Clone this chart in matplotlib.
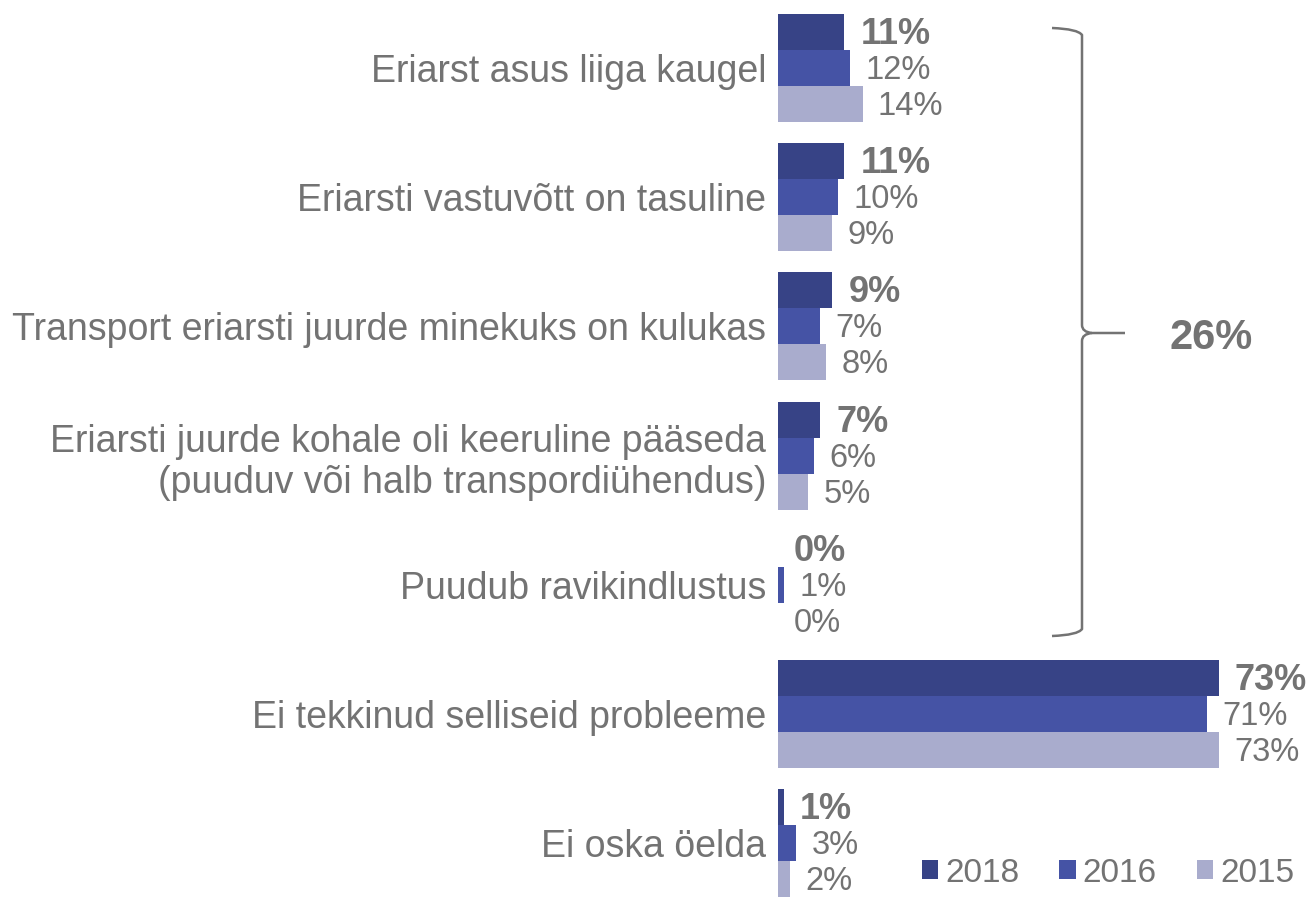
import matplotlib
matplotlib.use("Agg")
import matplotlib.pyplot as plt
from matplotlib.path import Path
from matplotlib.patches import PathPatch
import numpy as np

plt.rcParams['font.family'] = ['Liberation Sans', 'DejaVu Sans']

categories = [
    "Eriarst asus liiga kaugel",
    "Eriarsti vastuvõtt on tasuline",
    "Transport eriarsti juurde minekuks on kulukas",
    "Eriarsti juurde kohale oli keeruline pääseda\n(puuduv või halb transpordiühendus)",
    "Puudub ravikindlustus",
    "Ei tekkinud selliseid probleeme",
    "Ei oska öelda",
]
years = ["2018", "2016", "2015"]
v2018 = [11, 11, 9, 7, 0, 73, 1]
v2016 = [12, 10, 7, 6, 1, 71, 3]
v2015 = [14, 9, 8, 5, 0, 73, 2]
bracket_total = "26%"

colors = ["#374386", "#4553A5", "#A9ACCD"]
text_color = "#737373"

W, H = 1314, 899
fig = plt.figure(figsize=(W / 100, H / 100), dpi=100)
ax_left = 778 / W
ax_w = (1310 - 778) / W
ax = fig.add_axes([ax_left, 0, ax_w, 1])

pitch = 129.2
top_c = 68
ax.set_ylim((H - top_c) / pitch, -top_c / pitch)
ax.set_xlim(0, (1310 - 778) / 6.04)

y = np.arange(len(categories))
bh = 36 / pitch
series = [v2018, v2016, v2015]
for i, (vals, c, yr) in enumerate(zip(series, colors, years)):
    off = (i - 1) * bh
    ax.barh(y + off, vals, height=bh, color=c, label=yr)
    for yy, v in zip(y + off, vals):
        ax.annotate(f"{v}%", (v, yy), xytext=(11.5 if i == 0 else 11, -1.8),
                    textcoords="offset points",
                    va="center", ha="left", color=text_color,
                    fontsize=26 if i == 0 else 23.5,
                    fontweight="bold" if i == 0 else "normal",
                    annotation_clip=False)

ax.set_yticks(y)
ax.set_yticklabels(categories, fontsize=27, color=text_color, linespacing=1.2)
ax.tick_params(axis="y", length=0, pad=8.5)
ax.tick_params(axis="x", bottom=False, labelbottom=False)
for s in ax.spines.values():
    s.set_visible(False)

# bracket in figure pixel coordinates
def px(x, yv):
    return (x / W, 1 - yv / H)

xv, ytop, ybot, ymid = 1082, 28, 636, 333
verts = [px(1052, ytop), px(1078, ytop + 1), px(xv, ytop + 7),
         px(xv, ymid - 8), px(xv, ymid - 1), px(xv + 10, ymid),
         px(1125, ymid),
         ]
codes = [Path.MOVETO, Path.CURVE3, Path.CURVE3, Path.LINETO, Path.CURVE3, Path.CURVE3, Path.LINETO]
p1 = PathPatch(Path(verts, codes), transform=fig.transFigure, fill=False,
               edgecolor=text_color, lw=1.8)
verts2 = [px(1052, ybot), px(1078, ybot - 1), px(xv, ybot - 7),
          px(xv, ymid + 8), px(xv, ymid + 1), px(xv + 10, ymid)]
codes2 = [Path.MOVETO, Path.CURVE3, Path.CURVE3, Path.LINETO, Path.CURVE3, Path.CURVE3]
p2 = PathPatch(Path(verts2, codes2), transform=fig.transFigure, fill=False,
               edgecolor=text_color, lw=1.8)
fig.patches.extend([p1, p2])
fig.text(1211 / W, 1 - 338 / H, bracket_total, fontsize=30, fontweight="bold",
         color=text_color, ha="center", va="center")

leg = fig.legend(loc="center", bbox_to_anchor=(1108 / W, 1 - 873 / H), ncol=3,
                 frameon=False, fontsize=24, handlelength=0.5, handleheight=0.5,
                 handletextpad=0.2, columnspacing=1.2, borderpad=0)
for t in leg.get_texts():
    t.set_color(text_color)

fig.savefig("out.png", dpi=100)
